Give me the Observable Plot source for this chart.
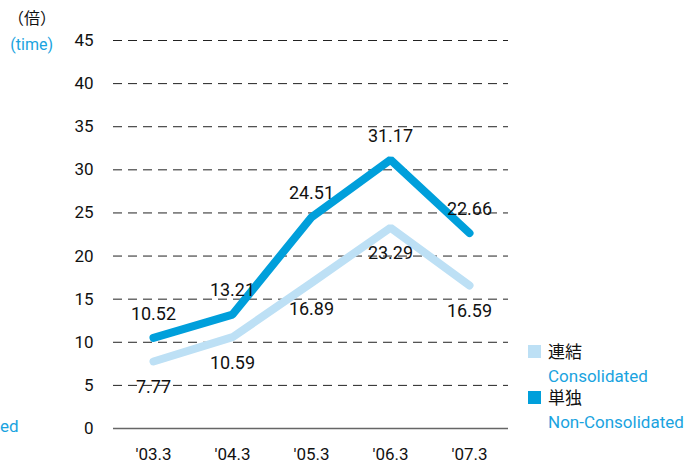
<!DOCTYPE html>
<html><head><meta charset="utf-8">
<script src="https://cdn.jsdelivr.net/npm/d3@7"></script>
<script src="https://cdn.jsdelivr.net/npm/@observablehq/plot@0.6"></script>
<style>body{margin:0;background:#fff;} #c{position:relative;}</style>
</head><body><div id="c"></div>
<script>
const periods = ["'03.3","'04.3","'05.3","'06.3","'07.3"];
const consolidated = [7.77,10.59,16.89,23.29,16.59];
const nonConsolidated = [10.52,13.21,24.51,31.17,22.66];
const yTicks = [0,5,10,15,20,25,30,35,40,45];
const seriesNames = ["連結","単独"];
const seriesNamesEn = ["Consolidated","Non-Consolidated"];
const unitJa = "（倍）";
const unitEn = "(time)";

const light = "#bde0f5", dark = "#009fdb", blue = "#1aa3e0";
const cons = periods.map((p,i)=>({p, v: consolidated[i]}));
const non = periods.map((p,i)=>({p, v: nonConsolidated[i]}));
const font = "Roboto, 'Noto Sans CJK JP', sans-serif";

const chart = Plot.plot({
  width: 688, height: 463,
  marginLeft: 113, marginRight: 180, marginTop: 40, marginBottom: 35,
  style: {fontFamily: font, fontSize: "17px", color: "#111", background: "#fff"},
  x: {type: "point", domain: periods, padding: 0.5, label: null, tickSize: 0, tickPadding: 19},
  y: {domain: [0,45], ticks: yTicks, label: null, tickSize: 0, tickPadding: 20},
  marks: [
    Plot.ruleY(yTicks.filter(d=>d>0), {stroke: "#222", strokeWidth: 1, strokeDasharray: "9,6"}),
    Plot.ruleY([0], {stroke: "#666", strokeWidth: 1.5}),
    Plot.line(cons, {x: "p", y: "v", stroke: light, strokeWidth: 8, strokeLinecap: "round", strokeLinejoin: "miter"}),
    Plot.line(non, {x: "p", y: "v", stroke: dark, strokeWidth: 8, strokeLinecap: "round", strokeLinejoin: "miter"}),
    Plot.text(non, {x: "p", y: "v", text: d=>d.v.toFixed(2), dy: -24, fill: "#111", fontSize: 18}),
    Plot.text(cons, {x: "p", y: "v", text: d=>d.v.toFixed(2), dy: 26, fill: "#111", fontSize: 18})
  ]
});
document.getElementById("c").appendChild(chart);

const svg = d3.select(chart);
function txt(x, y, s, size, fill, anchor) {
  svg.append("text").attr("x", x).attr("y", y).attr("text-anchor", anchor || "start")
    .attr("font-size", size).attr("font-family", font).attr("fill", fill).text(s);
}
txt(56, 24, unitJa, 16, "#111", "end");
txt(53, 50, unitEn, 16, blue, "end");
txt(0, 432, "ed", 17, blue, "start");

const leg = [{c: light, y: 345}, {c: dark, y: 391}];
leg.forEach((l,i)=>{
  svg.append("rect").attr("x",528).attr("y",l.y).attr("width",13).attr("height",13).attr("fill",l.c);
  txt(548, l.y+13, seriesNames[i], 17, "#111", "start");
  txt(548, l.y+37, seriesNamesEn[i], 17, blue, "start");
});
</script></body></html>
